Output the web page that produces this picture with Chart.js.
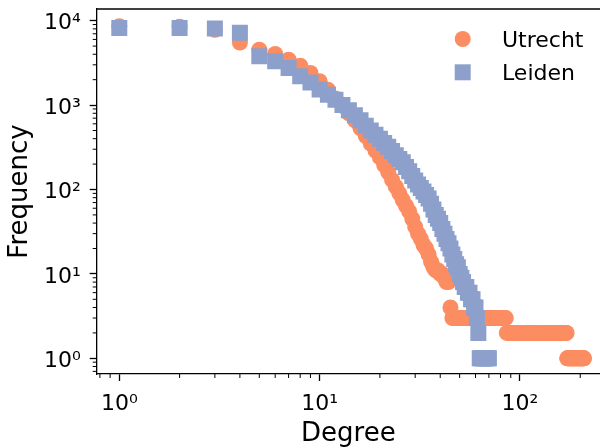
<!DOCTYPE html>
<html>
<head>
<meta charset="utf-8">
<script src="https://cdn.jsdelivr.net/npm/chart.js@4.4.1/dist/chart.umd.min.js"></script>
<style>
html,body{margin:0;padding:0;overflow:hidden;background:#fff;}
#wrap{position:relative;width:600px;height:447px;}
</style>
</head>
<body>
<div id="wrap"><canvas id="c"></canvas></div>
<script>
// ---------------- data ----------------
const seriesNames = ['Utrecht', 'Leiden'];
const seriesColors = ['#fc8d62', '#8da0cb'];

const utrechtDegree = [
  1,2,3,4,5,6,7,8,9,10,11,12,13,14,15,16,17,18,19,20,
  21,22,23,24,25,26,27,28,29,30,31,32,33,34,35,36,37,38,39,40,
  41,42,43,44,45,46,47,48,49,50,51,52,53,54,55,56,57,58,59,60,
  61,62,63,64,65,66,67,68,69,70,71,72,73,74,75,76,77,78,79,80,
  81,82,83,84,85,86,87,88,89,90,91,92,93,94,95,96,97,98,99,100,
  101,102,103,104,105,106,107,108,109,110,111,112,113,114,115,116,117,118,119,120,
  121,122,123,124,125,126,127,128,129,130,131,132,133,134,135,136,137,138,139,140,
  141,142,143,144,145,146,147,148,149,150,151,152,153,154,155,156,157,158,159,160,
  161,162,163,164,165,166,167,168,169,170,171,172,173,174,175,176,177,178,179,180,
  181,182,183,184,185,186,187,188,189,190,191,192,193,194,195,196,197,198,199,200,
  201,202,203,204,205,206,207,208,209
];
const utrechtFreq = [
  8600,8500,7800,5500,4530,4030,3450,2930,2400,1920,
  1520,1200,980,800,660,530,430,350,290,240,
  195,160,130,108,90,75,64,55,45,36,
  30,26,22,20,17,14,12,11,11,10,
  10,9,8,8,4,
  3,3,3,3,3,3,3,3,3,3,3,3,3,3,3,3,3,3,3,3,
  3,3,3,3,3,3,3,3,3,3,3,3,3,3,3,3,3,3,3,3,
  2,2,2,2,2,2,2,2,2,2,2,2,2,2,2,2,2,2,2,2,
  2,2,2,2,2,2,2,2,2,2,2,2,2,2,2,2,2,2,2,2,
  2,2,2,2,2,2,2,2,2,2,2,2,2,2,2,2,2,2,2,2,
  2,2,2,2,2,2,2,2,2,2,2,2,2,2,2,2,2,2,2,2,
  2,2,2,2,2,2,
  1,1,1,1,1,1,1,1,1,1,1,1,1,1,1,1,1,1,1,
  1,1,1,1,1,1,1,1,1,1,1,1,1,1,1,1,1,1,1
];

const leidenDegree = [
  1,2,3,4,5,6,7,8,9,10,11,12,13,14,15,16,17,18,19,20,
  21,22,23,24,25,26,27,28,29,30,31,32,33,34,35,36,37,38,39,40,
  41,42,43,44,45,46,47,48,49,50,51,52,53,54,55,56,57,58,59,60,
  61,62,63,64,65,66,67,68,69,70
];
const leidenFreq = [
  8200,8200,8100,7200,3800,3300,2750,2200,1850,1530,
  1330,1160,1000,870,760,660,570,500,445,400,
  355,320,285,255,230,210,185,165,145,128,
  115,104,95,86,78,68,58,50,45,40,
  34,30,26,23,20,17,15,13,12,10,
  9,8,7,7,6,6,5,5,4,4,
  3,2,1,1,1,1,1,1,1,1
];

const xTickValues = [1, 10, 100];
const xTickLabels = ['10\u2070', '10\u00B9', '10\u00B2'];
const yTickValues = [1, 10, 100, 1000, 10000];
const yTickLabels = ['10\u2070', '10\u00B9', '10\u00B2', '10\u00B3', '10\u2074'];
const xMinorTicks = [0.8,0.9,2,3,4,5,6,7,8,9,20,30,40,50,60,70,80,90,200];
const yMinorTicks = [0.7,0.8,0.9,2,3,4,5,6,7,8,9,20,30,40,50,60,70,80,90,
  200,300,400,500,600,700,800,900,2000,3000,4000,5000,6000,7000,8000,9000];
const xTitle = 'Degree';
const yTitle = 'Frequency';

// ---------------- chart ----------------
const FONT = 'DejaVu Sans';

const framePlugin = {
  id: 'frame',
  afterDraw(chart) {
    const {ctx, chartArea: a, scales} = chart;
    ctx.save();
    // minor ticks
    ctx.strokeStyle = '#000';
    ctx.lineWidth = 1;
    ctx.beginPath();
    xMinorTicks.forEach(v => {
      const x = scales.x.getPixelForValue(v);
      ctx.moveTo(x, a.bottom); ctx.lineTo(x, a.bottom + 4);
    });
    yMinorTicks.forEach(v => {
      const y = scales.y.getPixelForValue(v);
      ctx.moveTo(a.left, y); ctx.lineTo(a.left - 4, y);
    });
    ctx.stroke();
    // top spine
    ctx.lineWidth = 1.3;
    ctx.beginPath();
    ctx.moveTo(a.left, a.top); ctx.lineTo(a.right, a.top);
    ctx.stroke();
    // legend
    const mx = a.right - 137.3;
    const tx = a.right - 98;
    const rows = [a.top + 30, a.top + 63.3];
    chart.data.datasets.forEach((ds, i) => {
      const y = rows[i];
      ctx.fillStyle = ds.backgroundColor;
      Chart.helpers.drawPoint(ctx, {pointStyle: ds.pointStyle, radius: ds.pointRadius, rotation: 0, borderWidth: 0}, mx, y);
      ctx.fillStyle = '#000';
      ctx.font = '22px "' + FONT + '"';
      ctx.textAlign = 'left';
      ctx.textBaseline = 'alphabetic';
      ctx.fillText(ds.label, tx, y + 8);
    });
    ctx.restore();
  }
};

const tickFont = {family: FONT, size: 22};
const zeroPad = s => { s.paddingTop = 0; s.paddingBottom = 0; s.paddingLeft = 0; s.paddingRight = 0; };

new Chart(document.getElementById('c'), {
  type: 'scatter',
  data: {
    datasets: [
      {
        label: seriesNames[0],
        data: utrechtDegree.map((d, i) => ({x: d, y: utrechtFreq[i]})),
        pointStyle: 'circle',
        pointRadius: 8,
        pointHoverRadius: 8,
        backgroundColor: seriesColors[0],
        borderColor: seriesColors[0],
        borderWidth: 0,
        order: 2
      },
      {
        label: seriesNames[1],
        data: leidenDegree.map((d, i) => ({x: d, y: leidenFreq[i]})),
        pointStyle: 'rect',
        pointRadius: 8 * Math.SQRT2,
        pointHoverRadius: 8 * Math.SQRT2,
        backgroundColor: seriesColors[1],
        borderColor: seriesColors[1],
        borderWidth: 0,
        order: 1
      }
    ]
  },
  options: {
    responsive: true,
    maintainAspectRatio: false,
    animation: false,
    events: [],
    layout: {autoPadding: false, padding: {top: 9, right: 0, left: 0, bottom: 0}},
    plugins: {legend: {display: false}, tooltip: {enabled: false}},
    scales: {
      x: {
        type: 'logarithmic',
        position: 'bottom',
        min: 0.7713,
        max: 251.0,
        afterBuildTicks: s => { s.ticks = xTickValues.map(v => ({value: v, major: true})); },
        afterFit: s => { s.height = 73; zeroPad(s); },
        ticks: {autoSkip: false, maxRotation: 0, minRotation: 0, padding: 10, color: '#000', font: tickFont,
                callback: (v, i) => xTickLabels[i]},
        grid: {drawOnChartArea: false, drawTicks: true, tickLength: 7, tickWidth: 1.3, tickColor: '#000'},
        border: {display: true, color: '#000', width: 1.3},
        title: {display: true, text: xTitle, color: '#000', font: {family: FONT, size: 26, lineHeight: 1}, padding: {top: 0, bottom: 0}}
      },
      y: {
        type: 'logarithmic',
        position: 'left',
        min: 0.6517,
        max: 13757,
        afterBuildTicks: s => { s.ticks = yTickValues.map(v => ({value: v, major: true})); },
        afterFit: s => { s.width = 96.7; zeroPad(s); },
        ticks: {autoSkip: false, padding: 9, labelOffset: 3, color: '#000', font: tickFont,
                callback: (v, i) => yTickLabels[i]},
        grid: {drawOnChartArea: false, drawTicks: true, tickLength: 7, tickWidth: 1.3, tickColor: '#000'},
        border: {display: true, color: '#000', width: 1.3},
        title: {display: true, text: yTitle, color: '#000', font: {family: FONT, size: 26, lineHeight: 1}, padding: {top: 7.6, bottom: 0}}
      }
    }
  },
  plugins: [framePlugin]
});
</script>
</body>
</html>
